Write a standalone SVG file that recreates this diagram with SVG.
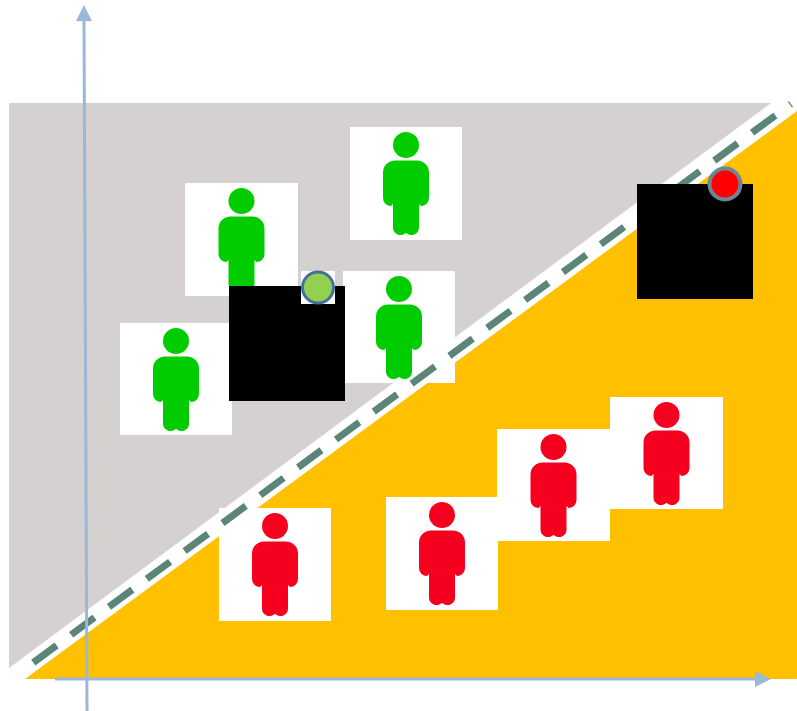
<svg xmlns="http://www.w3.org/2000/svg" xmlns:xlink="http://www.w3.org/1999/xlink" width="797" height="711" viewBox="0 0 797 711">
  <style>
    .card { fill: #ffffff; }
    .screen { fill: #000000; }
    .axis { fill: none; stroke: #9ab8d8; stroke-width: 3; }
    .good { fill: #00cc00; }
    .bad { fill: #f5001e; }
  </style>
  <defs>
    <marker id="arrow" markerUnits="userSpaceOnUse" markerWidth="18" markerHeight="18" refX="0" refY="8" orient="auto" overflow="visible">
      <path d="M0,0 L16,8 L0,16 Z" fill="#9ab8d8"/>
    </marker>
    <g id="person">
      <circle cx="0" cy="0" r="13"/>
      <path d="M-11,15.500 H11 A12,12 0 0 1 23,27.500 V53 A8,8 0 0 1 15,61 L13,59 V82.500 A7.500,7.500 0 0 1 1,88.500 L0,88 L-1,88.500 A7.500,7.500 0 0 1 -13,82.500 V59 L-15,61 A8,8 0 0 1 -23,53 V27.500 A12,12 0 0 1 -11,15.500 Z"/>
    </g>
  </defs>

  <rect width="797" height="711" fill="#ffffff"/>
  <polygon id="gray-region" points="9,103 771,103 9,668" fill="#d5d1d1"/>
  <polygon id="orange-region" points="25,679 797,111 797,679" fill="#ffc000"/>

  <g id="person-green-1"><rect class="card" x="185" y="183" width="113" height="113"/><use href="#person" class="good" x="241.500" y="201"/></g>
  <g id="person-green-2"><rect class="card" x="350" y="127" width="112" height="113"/><use href="#person" class="good" x="406" y="145"/></g>
  <g id="person-green-3"><rect class="card" x="343" y="271" width="112" height="112"/><use href="#person" class="good" x="399" y="289"/></g>
  <g id="person-green-4"><rect class="card" x="120" y="323" width="112" height="112"/><use href="#person" class="good" x="176" y="341"/></g>
  <g id="person-red-1"><rect class="card" x="219" y="508" width="112" height="113"/><use href="#person" class="bad" x="275" y="526"/></g>
  <g id="person-red-2"><rect class="card" x="386" y="497" width="112" height="113"/><use href="#person" class="bad" x="442" y="515"/></g>
  <g id="person-red-3"><rect class="card" x="497" y="429" width="113" height="112"/><use href="#person" class="bad" x="553.500" y="447"/></g>
  <g id="person-red-4"><rect class="card" x="610" y="397" width="113" height="112"/><use href="#person" class="bad" x="666.500" y="415"/></g>

  <g id="connectors">
    <line id="boundary" x1="33.3" y1="662.6" x2="791" y2="104" stroke="#5b8579" stroke-width="7" stroke-dasharray="29 18"/>
    <line id="y-axis" class="axis" x1="87" y1="711" x2="84" y2="21" marker-end="url(#arrow)"/>
    <line id="x-axis" class="axis" x1="55" y1="679" x2="755" y2="679" marker-end="url(#arrow)"/>
  </g>

  <g id="black-box-left"><rect class="screen" x="229" y="286" width="116" height="115"/></g>
  <g id="black-box-right"><rect class="screen" x="637" y="184" width="116" height="115"/></g>

  <g id="green-dot">
    <rect class="card" x="301" y="271" width="34" height="33"/>
    <circle cx="318" cy="287.500" r="15.500" fill="#92d050" stroke="#41719c" stroke-width="3"/>
  </g>
  <g id="red-dot">
    <circle cx="725" cy="184" r="15.500" fill="#ff0000" stroke="#6c8597" stroke-width="4"/>
  </g>
</svg>
